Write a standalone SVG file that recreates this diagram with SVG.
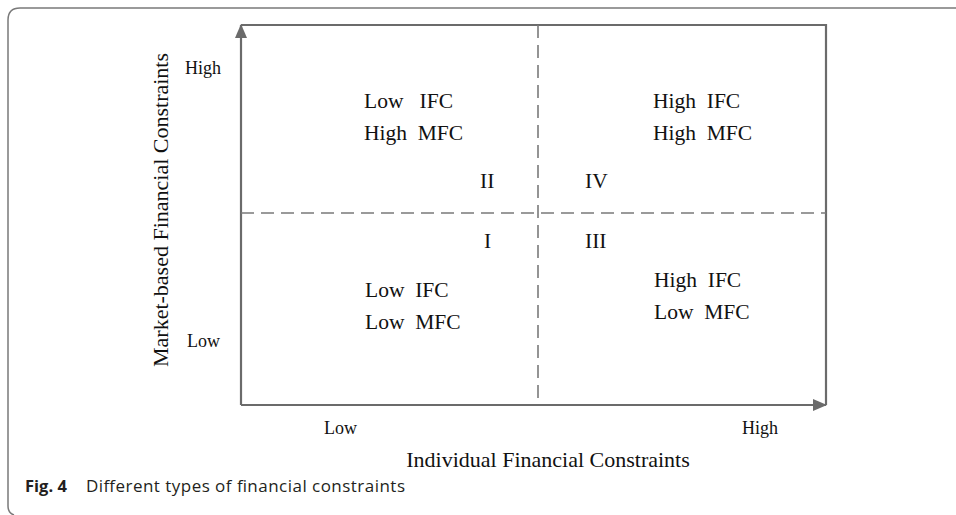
<svg xmlns="http://www.w3.org/2000/svg" width="956" height="515" viewBox="0 0 956 515">
<style>
.frame{fill:none;stroke:#7a7a7a;stroke-width:1.5}
.axis{fill:none;stroke:#6b6b6b;stroke-width:2.2}
.dash{fill:none;stroke:#7a7a7a;stroke-width:1.6;stroke-dasharray:13 7}
.t{font-family:"Liberation Serif","Times New Roman",serif;fill:#111;white-space:pre}
.q{font-size:21.5px}
.s{font-size:18px}
.l{font-size:22px}
.cap{font-family:"Open Sans","Noto Sans",sans-serif;font-size:16.5px;fill:#231f20}
</style>
<defs>
<marker id="ah" viewBox="0 0 14 12" refX="13" refY="6" markerWidth="14" markerHeight="12" markerUnits="userSpaceOnUse" orient="auto">
<path d="M0,0 L14,6 L0,12 Z" fill="#6b6b6b"/>
</marker>
</defs>
<path class="frame" d="M14,515 Q8,513 8,506 L8,20 Q8,8 20,8 L956,8"/>
<g id="connectors">
<path class="axis" d="M241,405 L826,405" marker-end="url(#ah)"/>
<path class="axis" d="M241,405 L241,25" marker-end="url(#ah)"/>
<path class="axis" d="M241,25 L826,25 L826,405"/>
<path class="dash" d="M538,25 L538,405"/>
<path class="dash" d="M241,213 L826,213"/>
</g>
<g id="q2">
<text class="t q" x="364" y="108">Low   IFC</text>
<text class="t q" x="364" y="140">High  MFC</text>
<text class="t q" x="480" y="188">II</text>
</g>
<g id="q4">
<text class="t q" x="653" y="108">High  IFC</text>
<text class="t q" x="653" y="140">High  MFC</text>
<text class="t q" x="585" y="188">IV</text>
</g>
<g id="q1">
<text class="t q" x="484" y="248">I</text>
<text class="t q" x="365" y="297">Low  IFC</text>
<text class="t q" x="365" y="329">Low  MFC</text>
</g>
<g id="q3">
<text class="t q" x="585" y="248">III</text>
<text class="t q" x="654" y="287">High  IFC</text>
<text class="t q" x="654" y="319">Low  MFC</text>
</g>
<g id="labels">
<text class="t s" x="185" y="74">High</text>
<text class="t s" x="187" y="347">Low</text>
<text class="t s" x="324" y="434">Low</text>
<text class="t s" x="742" y="434">High</text>
<text class="t l" x="548" y="467" text-anchor="middle">Individual Financial Constraints</text>
<text class="t l" transform="translate(168,210) rotate(-90)" text-anchor="middle">Market-based Financial Constraints</text>
</g>
<g id="caption">
<text class="cap" x="25" y="492"><tspan font-weight="bold">Fig. 4</tspan><tspan x="86" font-size="17" textLength="319">Different types of financial constraints</tspan></text>
</g>
</svg>
